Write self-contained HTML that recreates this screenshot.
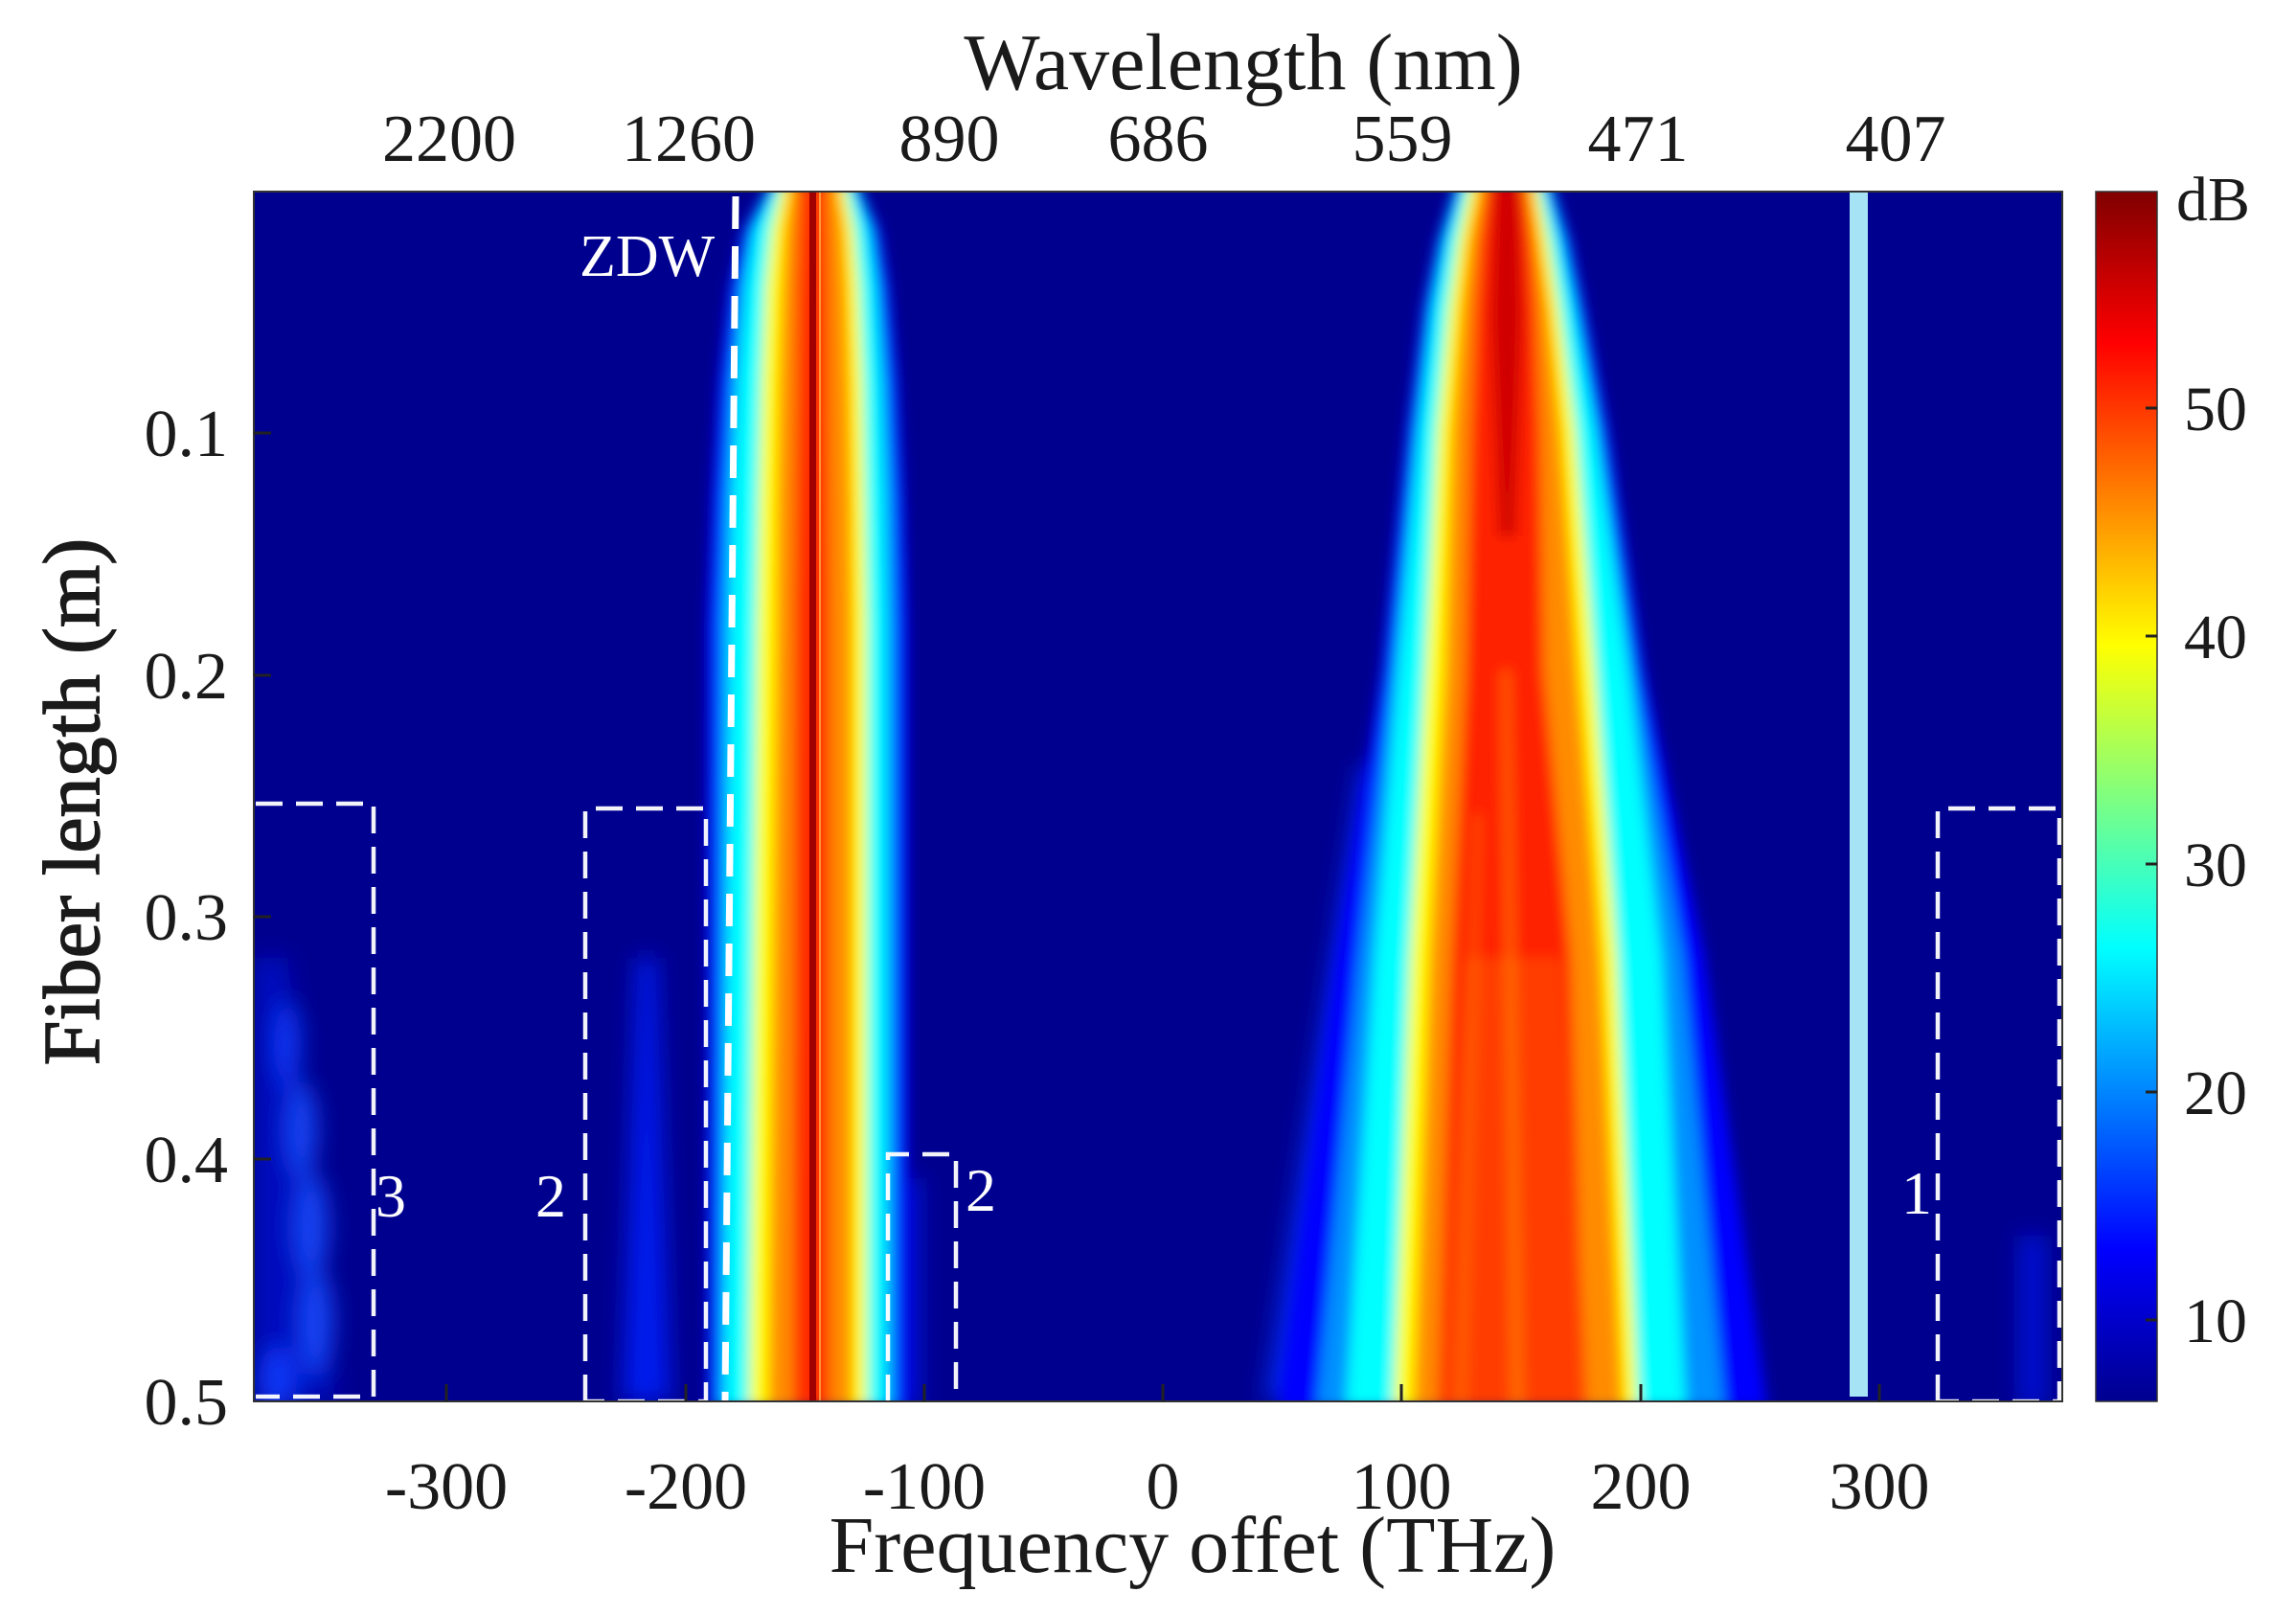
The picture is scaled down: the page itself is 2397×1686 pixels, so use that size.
<!DOCTYPE html>
<html><head><meta charset="utf-8"><style>
html,body{margin:0;padding:0;background:#fff;}
svg{display:block;}
text{font-family:"Liberation Serif","DejaVu Serif",serif;fill:#1a1a1a;}
</style></head><body>
<svg width="2397" height="1686" viewBox="0 0 2397 1686" xmlns="http://www.w3.org/2000/svg">
<defs>
<clipPath id="pc"><rect x="265" y="200" width="1888" height="1263"/></clipPath>
<filter id="bl" x="-20%" y="-20%" width="140%" height="140%"><feGaussianBlur stdDeviation="7"/></filter>
<filter id="bl2" x="-50%" y="-50%" width="200%" height="200%"><feGaussianBlur stdDeviation="12"/></filter>
<linearGradient id="jet" x1="0" y1="1" x2="0" y2="0">
<stop offset="0" stop-color="#00008F"/>
<stop offset="0.125" stop-color="#0000FF"/>
<stop offset="0.375" stop-color="#00FFFF"/>
<stop offset="0.625" stop-color="#FFFF00"/>
<stop offset="0.875" stop-color="#FF0000"/>
<stop offset="1" stop-color="#800000"/>
</linearGradient>
</defs>

<rect x="265" y="200" width="1888" height="1263" fill="#00008F"/>
<g clip-path="url(#pc)">
 <g filter="url(#bl2)">
  <polygon points="265,1000 300,1000 350,1463 265,1463" fill="#0010e0" opacity="0.6"/>
  <ellipse cx="300" cy="1090" rx="14" ry="45" fill="#1040ff" opacity="0.85"/>
  <ellipse cx="315" cy="1180" rx="16" ry="50" fill="#1850ff" opacity="0.85"/>
  <ellipse cx="325" cy="1280" rx="18" ry="55" fill="#1850ff" opacity="0.85"/>
  <ellipse cx="330" cy="1380" rx="18" ry="55" fill="#1850ff" opacity="0.85"/>
  <ellipse cx="290" cy="1440" rx="20" ry="35" fill="#1040ff" opacity="0.85"/>
  <polygon points="665,1000 685,1000 700,1463 650,1463" fill="#0020ff" opacity="0.85"/>
  <rect x="938" y="1230" width="22" height="240" fill="#0018f0" opacity="0.8"/>
  <rect x="2110" y="1290" width="24" height="180" fill="#0018f0" opacity="0.8"/>
  <polygon points="1420,800 1440,800 1360,1463 1320,1463" fill="#0030ff" opacity="0.8"/>
 </g>
 <g filter="url(#bl)">
  <polygon fill="#0000FF" points="805,190 775,240 761,300 750,400 743,520 738,650 738,1470 948,1470 948,650 944,520 938,400 929,300 919,240 895,190"/>
  <polygon fill="#0090FF" points="808,190 782,240 770,300 760,400 754,520 750,650 748,1470 936,1470 936,650 934,520 929,400 921,300 912,240 892,190"/>
  <polygon fill="#00FFFF" points="810,190 788,240 779,300 771,400 765,520 762,650 757,1470 925,1470 925,650 923,520 919,400 913,300 906,240 890,190"/>
  <polygon fill="#FFFF00" points="817,190 805,240 799,300 795,400 792,520 790,650 782,1470 905,1470 905,650 903,520 901,400 897,300 892,240 882,190"/>
  <polygon fill="#FF8C00" points="826,190 819,240 816,300 813,400 811,520 810,650 802,1470 890,1470 890,650 889,520 887,400 884,300 881,240 874,190"/>
  <polygon fill="#FF2A00" points="835,190 832,300 829,650 828,1470 866,1470 866,650 864,300 862,190"/>
 </g>
 <rect x="845" y="200" width="7" height="1263" fill="#a00000"/>
 <rect x="855" y="200" width="2" height="1263" fill="#ffd060" opacity="0.6"/>
 <g filter="url(#bl)">
  <polygon fill="#0000FF" points="1520,190 1500,250 1485,320 1468,450 1442,700 1395,1000 1335,1470 1845,1470 1780,1000 1717,700 1680,450 1655,320 1640,250 1620,190"/>
  <polygon fill="#0090FF" points="1524,190 1505,250 1491,320 1475,450 1451,700 1418,1000 1375,1470 1800,1470 1757,1000 1708,700 1672,450 1648,320 1634,250 1616,190"/>
  <polygon fill="#00FFFF" points="1527,190 1510,250 1497,320 1482,450 1460,700 1435,1000 1405,1470 1760,1470 1735,1000 1700,700 1665,450 1642,320 1628,250 1612,190"/>
  <polygon fill="#FFFF00" points="1535,190 1522,250 1512,320 1500,450 1488,700 1472,1000 1455,1470 1710,1470 1688,1000 1665,700 1645,450 1628,320 1617,250 1605,190"/>
  <polygon fill="#FF8C00" points="1545,190 1533,250 1525,320 1515,450 1508,700 1492,1000 1475,1470 1695,1470 1672,1000 1648,700 1630,450 1617,320 1607,250 1598,190"/>
  <polygon fill="#FF2000" points="1553,190 1545,250 1540,320 1535,450 1530,700 1515,1000 1500,1470 1655,1470 1640,1000 1612,700 1608,450 1603,320 1598,250 1591,190"/>
  <polygon fill="#FF6000" opacity="0.45" points="1530,1000 1500,1470 1660,1470 1630,1000"/>
  <polygon fill="#FFA000" opacity="0.5" points="1568,700 1576,700 1590,1470 1578,1470"/>
  <polygon fill="#FFA000" opacity="0.4" points="1540,850 1546,850 1530,1470 1520,1470"/>
  <polygon fill="#D00000" points="1560,190 1586,190 1590,330 1582,560 1565,560 1556,330"/>
 </g>
 <rect x="1931" y="200" width="19" height="1258" fill="#a6e3f5"/>
 <line x1="768" y1="205" x2="757" y2="1463" stroke="#fff" stroke-width="7" stroke-dasharray="34 18"/>
 <g fill="none" stroke="#fff" stroke-width="4.5" stroke-dasharray="28 14" opacity="0.95">
  <polyline points="267,839 390,839 390,1458 267,1458"/>
  <polyline points="611,1463 611,844 737,844 737,1463 611,1463"/>
  <polyline points="927,1463 927,1205 998,1205 998,1463"/>
  <polyline points="2023,1463 2023,844 2150,844 2150,1463 2023,1463"/>
 </g>
</g>
<g fill="#fff" style="font-size:64px">
 <text x="605" y="288" style="fill:#fff;font-size:62px">ZDW</text>
 <text x="408" y="1270" text-anchor="middle" style="fill:#fff">3</text>
 <text x="575" y="1270" text-anchor="middle" style="fill:#fff">2</text>
 <text x="1024" y="1264" text-anchor="middle" style="fill:#fff">2</text>
 <text x="2001" y="1267" text-anchor="middle" style="fill:#fff">1</text>
</g>
<rect x="265" y="200" width="1888" height="1263" fill="none" stroke="#333" stroke-width="2"/>
<g stroke="#222" stroke-width="3">
 <line x1="466" y1="1463" x2="466" y2="1445"/><line x1="716" y1="1463" x2="716" y2="1445"/>
 <line x1="965" y1="1463" x2="965" y2="1445"/><line x1="1214" y1="1463" x2="1214" y2="1445"/>
 <line x1="1463" y1="1463" x2="1463" y2="1445"/><line x1="1713" y1="1463" x2="1713" y2="1445"/>
 <line x1="1962" y1="1463" x2="1962" y2="1445"/>
 <line x1="265" y1="452" x2="283" y2="452"/><line x1="265" y1="705" x2="283" y2="705"/>
 <line x1="265" y1="957" x2="283" y2="957"/><line x1="265" y1="1210" x2="283" y2="1210"/>
</g>
<rect x="2188" y="200" width="64" height="1263" fill="url(#jet)" stroke="#333" stroke-width="1.5"/>
<g stroke="#222" stroke-width="3">
 <line x1="2240" y1="426" x2="2252" y2="426"/><line x1="2240" y1="664" x2="2252" y2="664"/>
 <line x1="2240" y1="902" x2="2252" y2="902"/><line x1="2240" y1="1140" x2="2252" y2="1140"/>
 <line x1="2240" y1="1378" x2="2252" y2="1378"/>
</g>
<g style="font-size:66px">
 <text x="2272" y="230">dB</text>
 <text x="2280" y="449">50</text>
 <text x="2280" y="687">40</text>
 <text x="2280" y="925">30</text>
 <text x="2280" y="1163">20</text>
 <text x="2280" y="1401">10</text>
</g>
<g style="font-size:70px" text-anchor="end">
 <text x="238" y="476">0.1</text>
 <text x="238" y="729">0.2</text>
 <text x="238" y="981">0.3</text>
 <text x="238" y="1234">0.4</text>
 <text x="238" y="1487">0.5</text>
</g>
<g style="font-size:70px" text-anchor="middle">
 <text x="466" y="1575">-300</text>
 <text x="716" y="1575">-200</text>
 <text x="965" y="1575">-100</text>
 <text x="1214" y="1575">0</text>
 <text x="1463" y="1575">100</text>
 <text x="1713" y="1575">200</text>
 <text x="1962" y="1575">300</text>
</g>
<g style="font-size:70px" text-anchor="middle">
 <text x="469" y="168">2200</text>
 <text x="719" y="168">1260</text>
 <text x="991" y="168">890</text>
 <text x="1209" y="168">686</text>
 <text x="1464" y="168">559</text>
 <text x="1710" y="168">471</text>
 <text x="1979" y="168">407</text>
</g>
<text x="1298" y="93" text-anchor="middle" style="font-size:84px">Wavelength (nm)</text>
<text x="1245" y="1641" text-anchor="middle" style="font-size:84px">Frequency offet (THz)</text>
<text x="0" y="0" text-anchor="middle" transform="translate(103,837) rotate(-90)" style="font-size:84px;stroke:#1a1a1a;stroke-width:1.5">Fiber length (m)</text>
</svg>
</body></html>
